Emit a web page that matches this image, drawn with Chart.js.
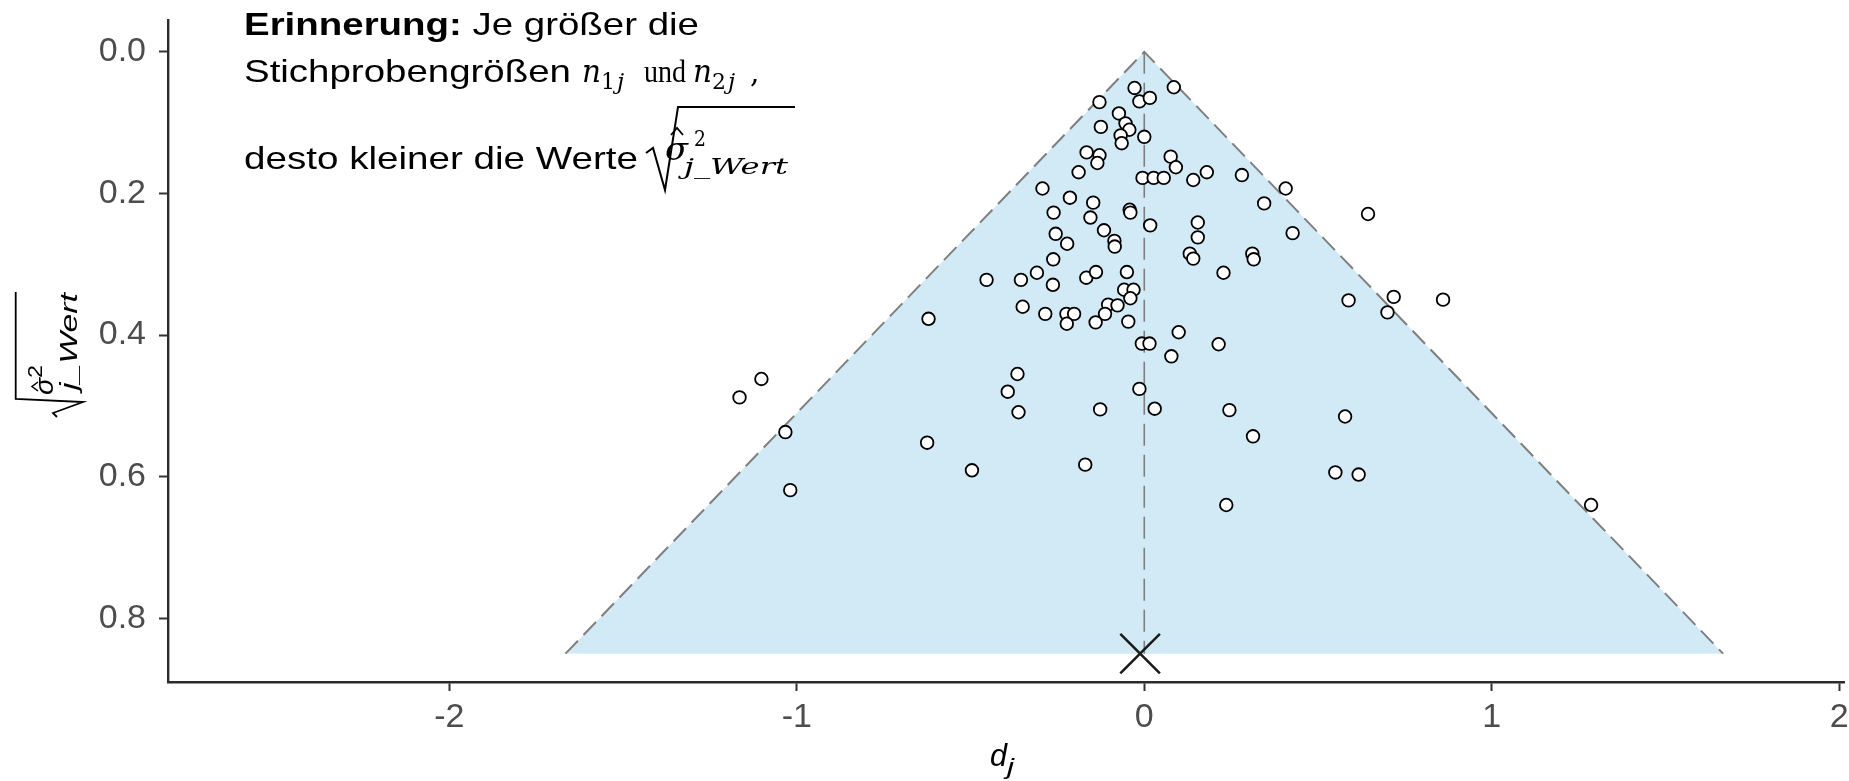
<!DOCTYPE html>
<html>
<head>
<meta charset="utf-8">
<script src="https://cdn.jsdelivr.net/npm/chart.js@4.4.0/dist/chart.umd.min.js"></script>
<style>
  html, body { margin: 0; padding: 0; background: #fff; }
  #wrap { width: 1849px; height: 781px; }
</style>
</head>
<body>
<div id="wrap"><canvas id="funnel_chart" width="1849" height="781"></canvas></div>
<script>
// effect sizes d_j and their standard errors
const dValues = [
  -0.129, -0.028, -0.014, 0.016, 0.085, -0.073, -0.054, -0.125, -0.043, -0.068,
  -0.065, 0.000, -0.166, -0.129, -0.135, -0.189, 0.076, 0.091, -0.005, 0.027,
  0.056, 0.141, 0.180, 0.281, 0.407, -0.293, 0.345, 0.644, 0.427, -0.214,
  -0.147, -0.261, -0.155, -0.042, -0.040, 0.017, 0.154, 0.154, -0.116, -0.086,
  -0.085, -0.255, -0.222, -0.262, 0.131, 0.141, 0.311, 0.315, 0.228, -0.454,
  -0.355, -0.309, -0.263, -0.167, -0.139, -0.050, -0.058, -0.031, -0.040, -0.104,
  -0.077, -0.113, -0.140, -0.046, -0.350, -0.285, -0.224, -0.202, -0.223, -0.621,
  0.588, 0.718, 0.700, 0.860, 0.099, -0.007, 0.015, 0.078, 0.214, -0.014,
  0.030, 0.245, 0.313, 0.578, 0.550, 0.617, 0.236, 1.286, -1.102, -1.165,
  -1.033, -1.019, -0.625, -0.496, -0.365, -0.393, -0.362, -0.127, -0.170
];
const seValues = [
  0.071, 0.051, 0.070, 0.065, 0.050, 0.087, 0.101, 0.106, 0.110, 0.118,
  0.129, 0.120, 0.142, 0.146, 0.157, 0.170, 0.148, 0.163, 0.178, 0.178,
  0.178, 0.181, 0.170, 0.174, 0.193, 0.193, 0.214, 0.229, 0.256, 0.206,
  0.213, 0.227, 0.234, 0.223, 0.227, 0.245, 0.241, 0.262, 0.252, 0.267,
  0.275, 0.257, 0.271, 0.293, 0.285, 0.292, 0.285, 0.293, 0.312, 0.322,
  0.322, 0.312, 0.329, 0.319, 0.311, 0.311, 0.336, 0.336, 0.348, 0.357,
  0.358, 0.370, 0.382, 0.381, 0.360, 0.370, 0.370, 0.370, 0.384, 0.377,
  0.351, 0.346, 0.368, 0.350, 0.396, 0.412, 0.412, 0.430, 0.413, 0.476,
  0.504, 0.506, 0.543, 0.515, 0.594, 0.597, 0.640, 0.640, 0.462, 0.488,
  0.537, 0.619, 0.552, 0.591, 0.455, 0.480, 0.509, 0.505, 0.583
];

// funnel (0 +- 1.96 * se) and centre line
const funnelD = [-1.666, 0, 1.666];
const funnelSE = [0.85, 0, 0.85];
const centerD = [0, 0];
const centerSE = [0, 0.85];
const pooledD = [-0.012];
const pooledSE = [0.85];

const xTicks = [-2, -1, 0, 1, 2];
const yTicks = [0, 0.2, 0.4, 0.6, 0.8];

const toPoints = (xs, ys) => xs.map((x, i) => ({ x: x, y: ys[i] }));

const sans = '"Liberation Sans", Arial, sans-serif';
const serif = '"DejaVu Serif", serif';

// draws text, squeezed or stretched to the given width if one is given
function fitText(ctx, text, x, y, font, width) {
  ctx.save();
  ctx.font = font;
  const w = ctx.measureText(text).width;
  ctx.translate(x, y);
  ctx.scale(width ? width / w : 1, 1);
  ctx.fillText(text, 0, 0);
  ctx.restore();
}

const textPlugin = {
  id: 'texts',
  afterDraw(chart) {
    const ctx = chart.ctx;
    ctx.save();
    ctx.fillStyle = '#000';
    ctx.strokeStyle = '#000';
    ctx.textBaseline = 'alphabetic';

    // note, line 1
    ctx.font = 'bold 32px ' + sans;
    const wb = ctx.measureText('Erinnerung:').width;
    ctx.font = '32px ' + sans;
    const wn = ctx.measureText(' Je größer die').width;
    const s = 455 / (wb + wn);
    fitText(ctx, 'Erinnerung:', 244, 35, 'bold 32px ' + sans, wb * s);
    fitText(ctx, ' Je größer die', 244 + wb * s, 35, '32px ' + sans, wn * s);

    // line 2
    fitText(ctx, 'Stichprobengrößen', 244, 82, '32px ' + sans, 327);
    fitText(ctx, 'n', 582, 82, 'italic 31px ' + serif, 19);
    fitText(ctx, '1', 601, 89, '23px ' + serif, 14);
    fitText(ctx, 'j', 617, 89, 'italic 23px ' + serif);
    fitText(ctx, 'und', 644, 82, '32px "Liberation Serif", serif', 42);
    fitText(ctx, 'n', 693, 82, 'italic 31px ' + serif, 19);
    fitText(ctx, '2', 712, 89, '23px ' + serif, 14);
    fitText(ctx, 'j', 728, 89, 'italic 23px ' + serif);
    fitText(ctx, ',', 750, 82, '30px ' + serif);

    // line 3
    fitText(ctx, 'desto kleiner die Werte', 244, 169, '32px ' + sans, 394);
    ctx.lineWidth = 2;
    ctx.beginPath();
    ctx.moveTo(646, 153);
    ctx.lineTo(653, 148);
    ctx.lineTo(665, 190);
    ctx.lineTo(678, 107);
    ctx.lineTo(795, 107);
    ctx.stroke();
    fitText(ctx, 'σ', 665, 160, 'italic 31px ' + serif, 23);
    ctx.lineWidth = 1.8;
    ctx.beginPath();
    ctx.moveTo(671, 135);
    ctx.lineTo(677, 128);
    ctx.lineTo(683, 135);
    ctx.stroke();
    fitText(ctx, '2', 694, 146, '22px ' + serif, 12);
    fitText(ctx, 'j_Wert', 684, 174, 'italic 23px ' + serif, 104);

    // y axis title, rotated
    ctx.save();
    ctx.translate(0, 420);
    ctx.rotate(-Math.PI / 2);
    ctx.lineWidth = 1.8;
    ctx.beginPath();
    ctx.moveTo(3, 57);
    ctx.lineTo(7, 53);
    ctx.lineTo(18, 83);
    ctx.lineTo(21, 15.7);
    ctx.lineTo(128, 15.7);
    ctx.stroke();
    fitText(ctx, 'σ', 25, 53, 'italic 25px ' + sans, 17);
    ctx.lineWidth = 1.5;
    ctx.beginPath();
    ctx.moveTo(29, 38);
    ctx.lineTo(33.5, 32);
    ctx.lineTo(38, 38);
    ctx.stroke();
    fitText(ctx, '2', 42, 42, '20px ' + sans, 13);
    fitText(ctx, 'j_Wert', 30, 77, 'italic 24px ' + sans, 97);
    ctx.restore();

    // x axis title
    fitText(ctx, 'd', 990, 766, 'italic 32px ' + sans, 17);
    fitText(ctx, 'j', 1007, 774, 'italic 22px ' + sans, 7);
    ctx.restore();
  }
};

const ctx = document.getElementById('funnel_chart').getContext('2d');

const data = {
  datasets: [
    {
      type: 'line',
      label: 'Trichter',
      data: toPoints(funnelD, funnelSE),
      borderColor: '#7f7f7f',
      borderWidth: 2,
      borderDash: [18, 8],
      backgroundColor: '#D2EAF5',
      fill: { value: 0.85 },
      pointRadius: 0,
      tension: 0,
      order: 3
    },
    {
      type: 'line',
      label: 'Null',
      data: toPoints(centerD, centerSE),
      borderColor: '#7f7f7f',
      borderWidth: 1.6,
      borderDash: [22, 9],
      pointRadius: 0,
      fill: false,
      order: 2
    },
    {
      type: 'scatter',
      label: 'Studien',
      data: toPoints(dValues, seValues),
      pointRadius: 6.3,
      pointBackgroundColor: '#ffffff',
      pointBorderColor: '#000000',
      pointBorderWidth: 1.8,
      order: 1
    },
    {
      type: 'scatter',
      label: 'Gesamt',
      data: toPoints(pooledD, pooledSE),
      pointStyle: 'crossRot',
      pointRadius: 28,
      pointBorderColor: '#1a1a1a',
      pointBorderWidth: 2.5,
      order: 0
    }
  ]
};

const tickFont = { family: 'Liberation Sans', size: 34 };

const config = {
  type: 'scatter',
  data: data,
  plugins: [textPlugin],
  options: {
    responsive: false,
    animation: false,
    layout: { autoPadding: false, padding: { top: 20, right: 5, left: 0, bottom: 0 } },
    plugins: {
      legend: { display: false },
      tooltip: { enabled: false }
    },
    scales: {
      x: {
        type: 'linear',
        min: -2.81,
        max: 2.014,
        afterBuildTicks: (scale) => { scale.ticks = xTicks.map(v => ({ value: v })); },
        afterFit: (scale) => {
          scale.height = 99;
          scale.paddingLeft = 0;
          scale.paddingRight = 0;
        },
        border: { display: true, color: '#2b2b2b', width: 2.4 },
        grid: { display: true, drawOnChartArea: false, drawTicks: true, tickLength: 9, tickColor: '#333333', tickWidth: 2 },
        ticks: {
          padding: 6,
          color: '#4D4D4D',
          font: tickFont,
          callback: (v) => String(v)
        }
      },
      y: {
        type: 'linear',
        reverse: true,
        min: -0.045,
        max: 0.89,
        afterBuildTicks: (scale) => { scale.ticks = yTicks.map(v => ({ value: v })); },
        afterFit: (scale) => {
          scale.width = 168;
          scale.paddingTop = 0;
          scale.paddingBottom = 0;
        },
        border: { display: true, color: '#2b2b2b', width: 2.4 },
        grid: { display: true, drawOnChartArea: false, drawTicks: true, tickLength: 9, tickColor: '#333333', tickWidth: 2 },
        ticks: {
          padding: 13,
          color: '#4D4D4D',
          font: tickFont,
          callback: (v) => v.toFixed(1)
        }
      }
    }
  }
};

const funnel_chart = new Chart(ctx, config);
</script>
</body>
</html>
